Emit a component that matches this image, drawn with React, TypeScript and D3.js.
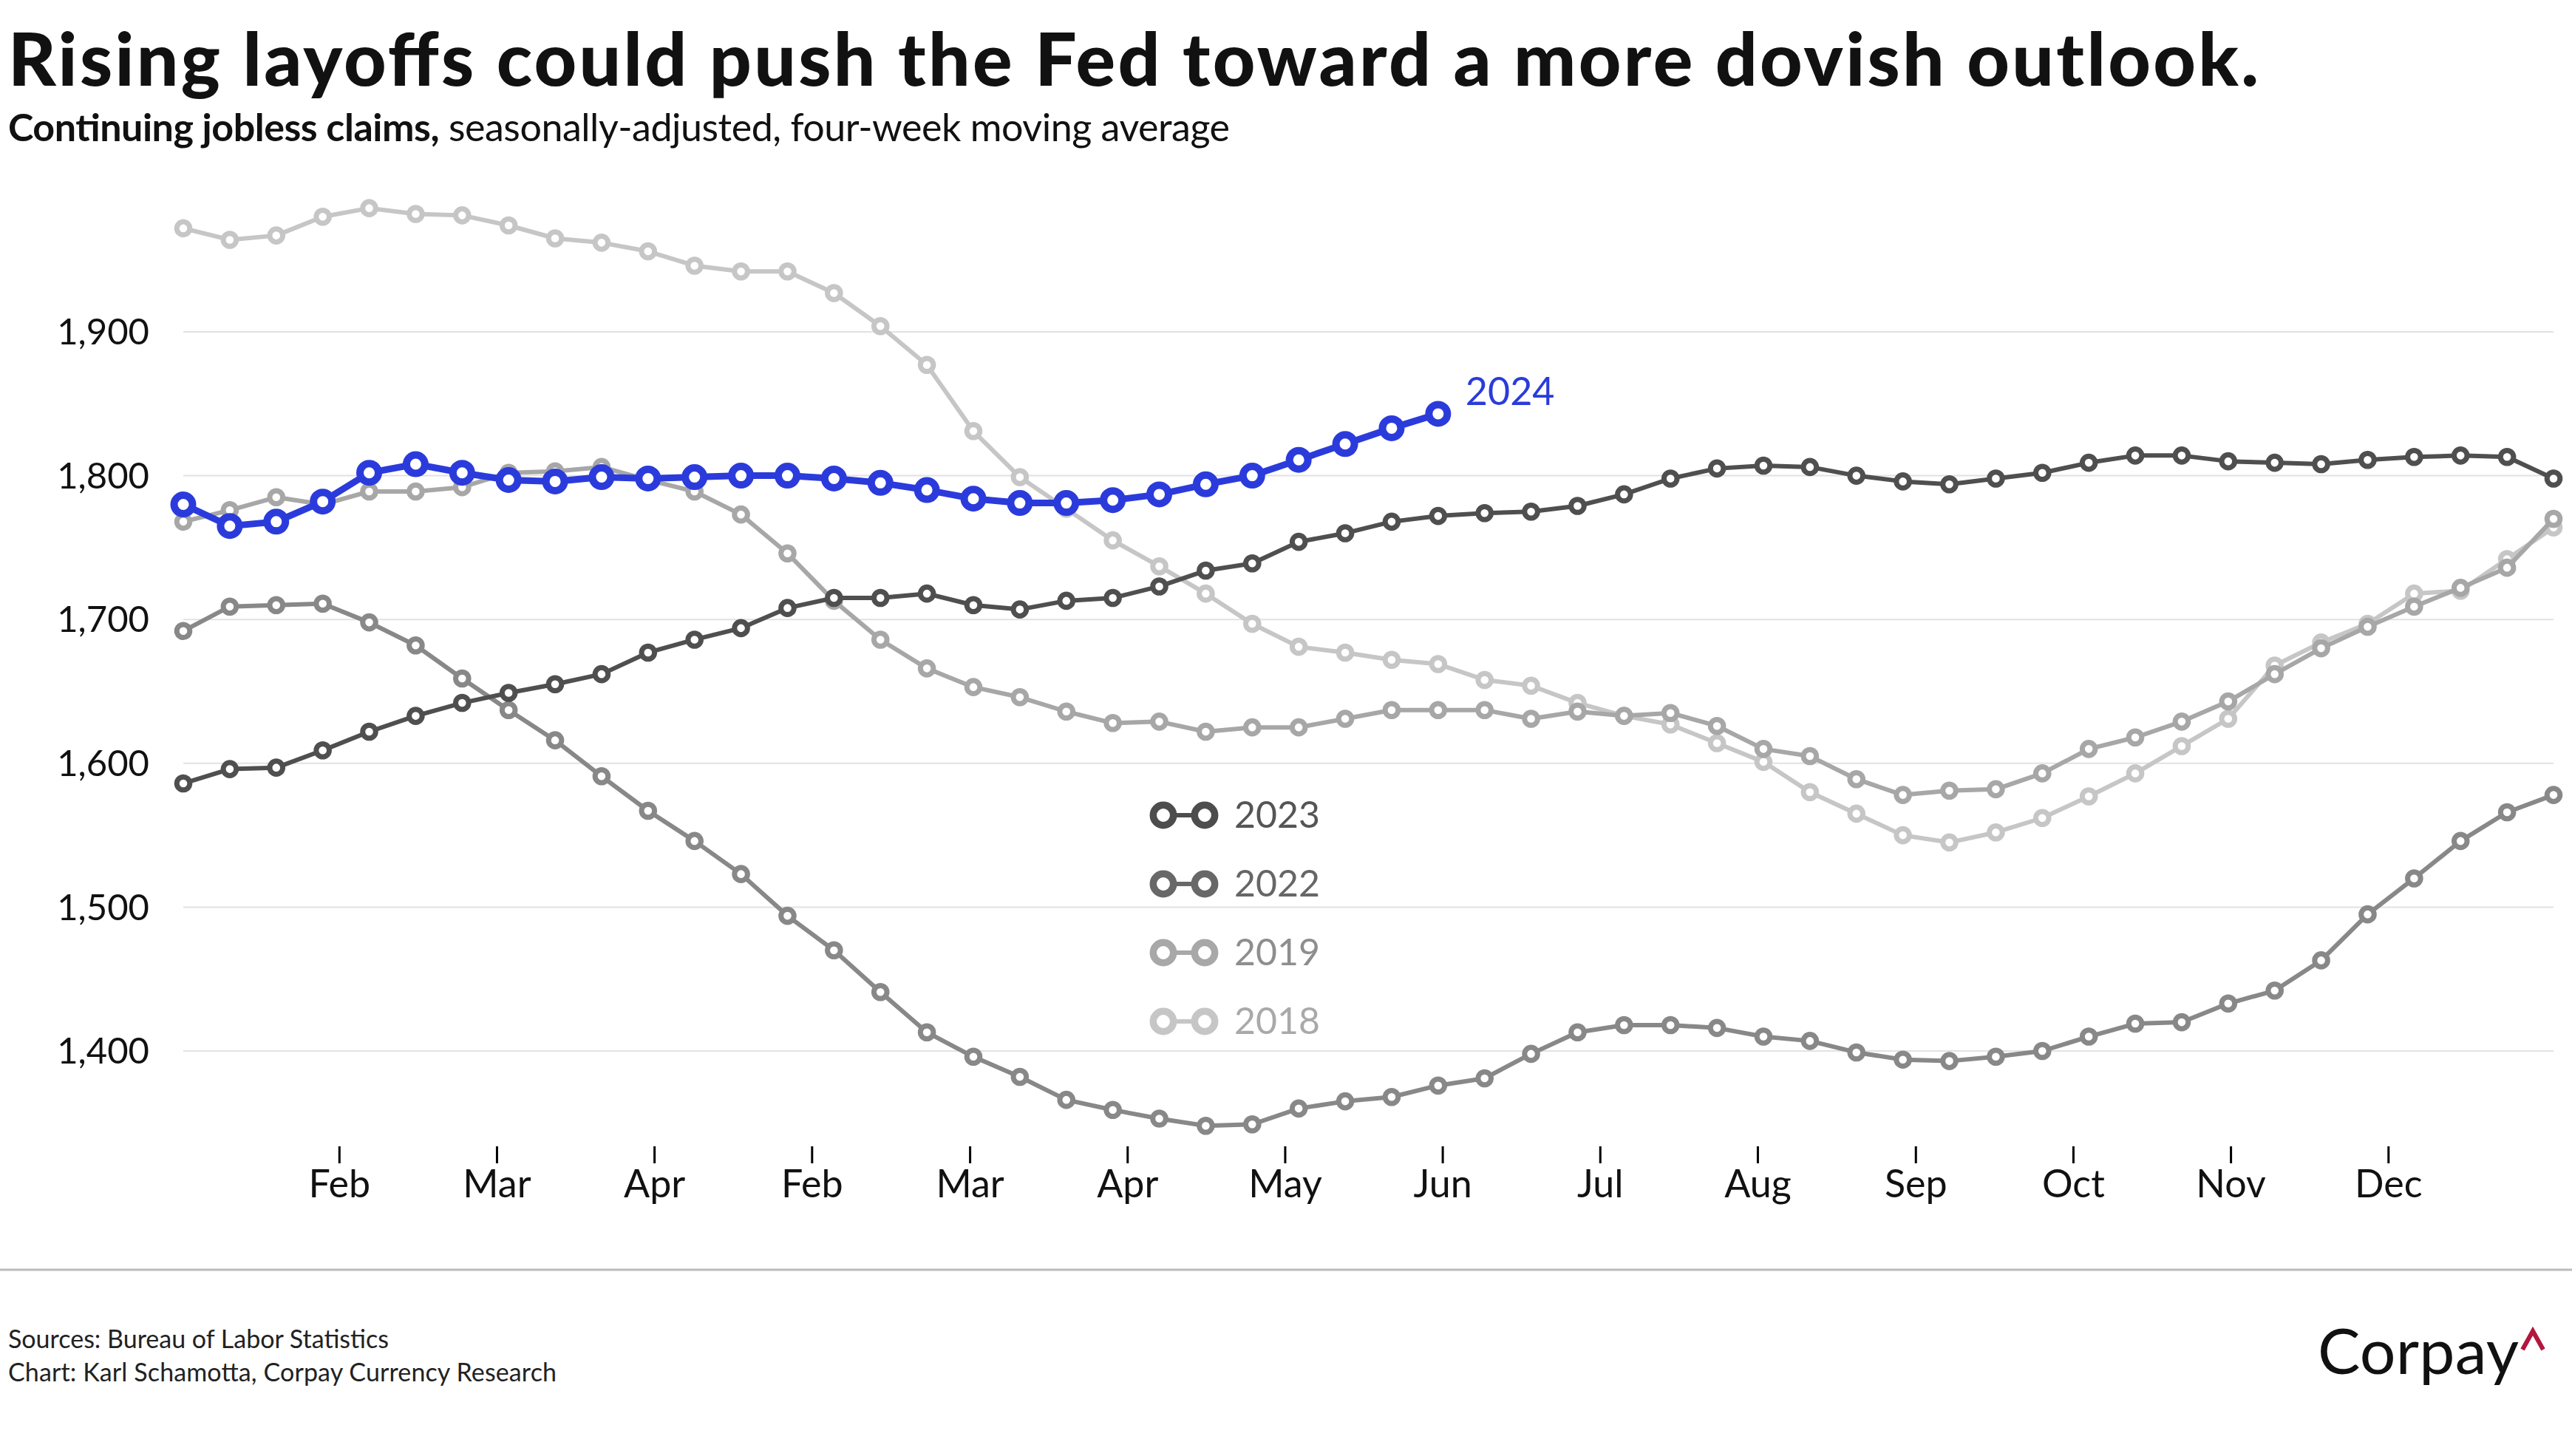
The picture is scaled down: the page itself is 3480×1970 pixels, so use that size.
import * as d3 from "d3";

// continuing jobless claims, thousands, weekly index 0..51
const claims2018 = [
  1972, 1964, 1967, 1980, 1986, 1982, 1981, 1974, 1965,
  1962, 1956, 1946, 1942, 1942, 1927, 1904, 1877, 1831,
  1799, 1777, 1755, 1737, 1718, 1697, 1681, 1677,
  1672, 1669, 1658, 1654, 1642, 1633, 1627, 1614, 1601,
  1580, 1565, 1550, 1545, 1552, 1562, 1577, 1593,
  1612, 1631, 1668, 1684, 1697, 1718, 1720, 1742, 1764,
];
const claims2019 = [
  1768, 1776, 1785, 1780, 1789, 1789, 1792, 1802, 1803,
  1806, 1797, 1789, 1773, 1746, 1713, 1686, 1666, 1653,
  1646, 1636, 1628, 1629, 1622, 1625, 1625, 1631,
  1637, 1637, 1637, 1631, 1636, 1633, 1635, 1626, 1610,
  1605, 1589, 1578, 1581, 1582, 1593, 1610, 1618,
  1629, 1643, 1662, 1680, 1695, 1709, 1722, 1736, 1770,
];
const claims2022 = [
  1692, 1709, 1710, 1711, 1698, 1682, 1659, 1637, 1616,
  1591, 1567, 1546, 1523, 1494, 1470, 1441, 1413, 1396,
  1382, 1366, 1359, 1353, 1348, 1349, 1360, 1365,
  1368, 1376, 1381, 1398, 1413, 1418, 1418, 1416, 1410,
  1407, 1399, 1394, 1393, 1396, 1400, 1410, 1419,
  1420, 1433, 1442, 1463, 1495, 1520, 1546, 1566, 1578,
];
const claims2023 = [
  1586, 1596, 1597, 1609, 1622, 1633, 1642, 1649, 1655,
  1662, 1677, 1686, 1694, 1708, 1715, 1715, 1718, 1710,
  1707, 1713, 1715, 1723, 1734, 1739, 1754, 1760,
  1768, 1772, 1774, 1775, 1779, 1787, 1798, 1805, 1807,
  1806, 1800, 1796, 1794, 1798, 1802, 1809, 1814,
  1814, 1810, 1809, 1808, 1811, 1813, 1814, 1813, 1798,
];
const claims2024 = [
  1780, 1765, 1768, 1782, 1802, 1808, 1802, 1797, 1796,
  1799, 1798, 1799, 1800, 1800, 1798, 1795, 1790, 1784,
  1781, 1781, 1783, 1787, 1794, 1800, 1811, 1822,
  1833, 1843,
];

const yTicks = [1400, 1500, 1600, 1700, 1800, 1900];
const xTickLabels = ["Feb", "Mar", "Apr", "Feb", "Mar", "Apr", "May", "Jun", "Jul", "Aug", "Sep", "Oct", "Nov", "Dec"];
const xTickWeeks = [3.36, 6.75, 10.14, 13.53, 16.93, 20.32, 23.71, 27.1, 30.49, 33.88, 37.28, 40.67, 44.06, 47.45];

const legendYears = ["2023", "2022", "2019", "2018"];

const W = 3480;
const H = 1970;
const FONT = "Lato, 'Open Sans', sans-serif";

const styles: Record<string, { line: string; legend: string; text: string; w: number; r: number; sw: number }> = {
  "2018": { line: "#c6c6c6", legend: "#c6c6c6", text: "#a9a9a9", w: 6, r: 8.8, sw: 7 },
  "2019": { line: "#a7a7a7", legend: "#a8a8a8", text: "#8e8e8e", w: 6, r: 8.8, sw: 7 },
  "2022": { line: "#888888", legend: "#686868", text: "#666666", w: 6, r: 8.8, sw: 7 },
  "2023": { line: "#4f4f4f", legend: "#4d4d4d", text: "#555555", w: 6, r: 8.8, sw: 7 },
  "2024": { line: "#2b3bdb", legend: "#2b3bdb", text: "#2b3bdb", w: 9, r: 12.5, sw: 10 },
};

const seriesData: [string, number[]][] = [
  ["2018", claims2018],
  ["2019", claims2019],
  ["2022", claims2022],
  ["2023", claims2023],
  ["2024", claims2024],
];

export default function App() {
  const x = d3.scaleLinear().domain([0, 51]).range([248, 3455]);
  const y = d3.scaleLinear().domain([1400, 1900]).range([1422, 449]);
  const fmt = d3.format(",");
  const line = d3
    .line<number>()
    .x((_, i) => x(i))
    .y((d) => y(d));

  const last2024 = claims2024.length - 1;

  return (
    <svg width={W} height={H} style={{ display: "block", background: "#fff" }} fontFamily={FONT}>
      <style>{"body{margin:0}"}</style>
      <rect width={W} height={H} fill="#fff" />

      {/* title block */}
      <text x={11} y={116} fontSize={100} fontWeight={900} fill="#111" textLength={3045}>
        Rising layoffs could push the Fed toward a more dovish outlook.
      </text>
      <text x={11} y={191} fontSize={52} fill="#111" textLength={1653}>
        <tspan fontWeight={700}>Continuing jobless claims,</tspan>
        <tspan> seasonally-adjusted, four-week moving average</tspan>
      </text>

      {/* grid + y labels */}
      {yTicks.map((t) => (
        <g key={t}>
          <line x1={x(0)} x2={x(51)} y1={y(t)} y2={y(t)} stroke="#e2e2e2" strokeWidth={2} />
          <text x={202} y={y(t)} dy="0.35em" textAnchor="end" fontSize={49} fill="#111">
            {fmt(t)}
          </text>
        </g>
      ))}

      {/* x ticks */}
      {xTickWeeks.map((w, i) => (
        <g key={i}>
          <line x1={x(w)} x2={x(w)} y1={1551} y2={1574} stroke="#000" strokeWidth={3} />
          <text x={x(w)} y={1620} textAnchor="middle" fontSize={52} fill="#111">
            {xTickLabels[i]}
          </text>
        </g>
      ))}

      {/* legend */}
      {legendYears.map((yr, i) => {
        const cy = 1103 + i * 93;
        const s = styles[yr];
        return (
          <g key={yr}>
            <line x1={1574} x2={1630} y1={cy} y2={cy} stroke={s.legend} strokeWidth={6} />
            <circle cx={1574} cy={cy} r={13.7} fill="#fff" stroke={s.legend} strokeWidth={9.5} />
            <circle cx={1630} cy={cy} r={13.7} fill="#fff" stroke={s.legend} strokeWidth={9.5} />
            <text x={1670} y={cy + 17} fontSize={50} fill={s.text}>
              {yr}
            </text>
          </g>
        );
      })}

      {/* series */}
      {seriesData.map(([yr, vals]) => {
        const s = styles[yr];
        return (
          <g key={yr}>
            <path d={line(vals) ?? ""} fill="none" stroke={s.line} strokeWidth={s.w} strokeLinejoin="round" />
            {vals.map((v, i) => (
              <circle key={i} cx={x(i)} cy={y(v)} r={s.r} fill="#fff" stroke={s.line} strokeWidth={s.sw} />
            ))}
          </g>
        );
      })}

      <text x={x(last2024) + 37} y={y(claims2024[last2024]) - 12} fontSize={52} fill={styles["2024"].text}>
        2024
      </text>

      {/* footer */}
      <line x1={0} x2={W} y1={1718} y2={1718} stroke="#bbbbbb" strokeWidth={3} />
      <text x={11} y={1824} fontSize={34} fill="#222" textLength={515}>
        Sources: Bureau of Labor Statistics
      </text>
      <text x={11} y={1869} fontSize={34} fill="#222" textLength={742}>
        Chart: Karl Schamotta, Corpay Currency Research
      </text>
      <text x={3136} y={1859} fontSize={86} fill="#111" textLength={272}>
        Corpay
      </text>
      <path d="M3413,1826 L3427,1801 L3441,1826" fill="none" stroke="#b3163f" strokeWidth={6} />
    </svg>
  );
}
